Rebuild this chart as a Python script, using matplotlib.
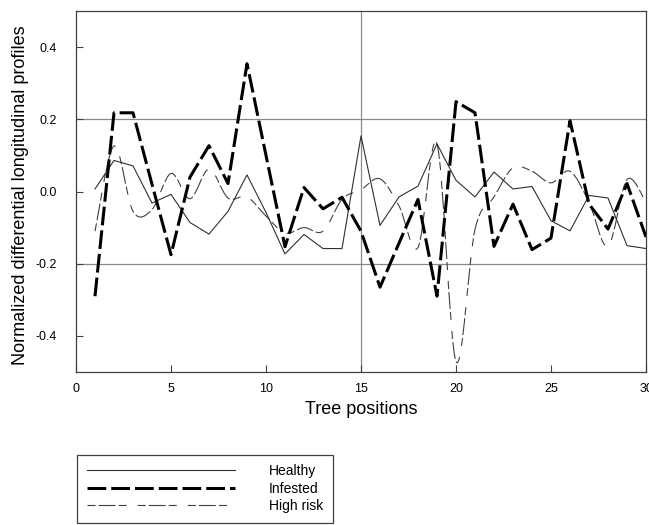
import numpy as np
import matplotlib
matplotlib.use("Agg")
import matplotlib.pyplot as plt
from matplotlib.path import Path
from matplotlib.patches import PathPatch
from matplotlib.lines import Line2D

plt.rcParams['font.family'] = ['Liberation Sans', 'DejaVu Sans']
plt.rcParams['lines.scale_dashes'] = False

# tree positions along the row
positions = list(range(1, 31))

healthy = [0.007, 0.086, 0.071, -0.032, -0.008, -0.086, -0.118, -0.055, 0.046, -0.058,
           -0.173, -0.119, -0.158, -0.158, 0.154, -0.094, -0.015, 0.015, 0.132, 0.031,
           -0.015, 0.054, 0.007, 0.014, -0.081, -0.109, -0.011, -0.018, -0.150, -0.158]
infested = [-0.290, 0.218, 0.218, 0.020, -0.175, 0.040, 0.127, 0.022, 0.354, 0.100,
            -0.153, 0.011, -0.048, -0.016, -0.110, -0.265, -0.143, -0.022, -0.290, 0.249,
            0.218, -0.152, -0.035, -0.161, -0.129, 0.196, -0.035, -0.104, 0.022, -0.126]
high_risk = [-0.110, 0.126, -0.055, -0.050, 0.050, -0.020, 0.062, -0.018, -0.015, -0.068,
             -0.115, -0.100, -0.110, -0.022, 0.005, 0.035, -0.040, -0.155, 0.131, -0.471,
             -0.105, -0.015, 0.066, 0.056, 0.024, 0.056, -0.030, -0.152, 0.033, -0.030]

labels = ['Healthy', 'Infested', 'High risk']
xticks = [0, 5, 10, 15, 20, 25, 30]
yticks = [-0.4, -0.2, 0.0, 0.2, 0.4]

infested_dash = (0, (13.5, 3.6))
risk_dash = (0, (5.8, 2.2, 12.2, 2.2, 5.8, 7.9))


def smooth_path(xs, ys):
    # cubic bezier through every point (catmull-rom tangents)
    pts = np.column_stack([xs, ys]).astype(float)
    n = len(pts)
    verts = [pts[0]]
    codes = [Path.MOVETO]
    for i in range(n - 1):
        p0 = pts[max(i - 1, 0)]
        p1 = pts[i]
        p2 = pts[i + 1]
        p3 = pts[min(i + 2, n - 1)]
        verts += [p1 + (p2 - p0) / 6.0, p2 - (p3 - p1) / 6.0, p2]
        codes += [Path.CURVE4] * 3
    return Path(verts, codes)


fig = plt.figure(figsize=(6.49, 5.25), dpi=100)
ax = fig.add_axes([76 / 649, 153 / 525, 570 / 649, 361 / 525])

# reference lines
for yv in (-0.2, 0.2):
    ax.axhline(yv, color='#8a8a8a', lw=0.9, zorder=1)
ax.axvline(15, color='#8a8a8a', lw=0.9, zorder=1)

ax.plot(positions, healthy, color='#303030', lw=0.8, zorder=3)
ax.plot(positions, infested, color='black', lw=2.2, linestyle=infested_dash, zorder=4)
ax.add_patch(PathPatch(smooth_path(positions, high_risk), fill=False,
                       edgecolor='#404040', lw=0.8, linestyle=risk_dash, zorder=2))

ax.set_xlim(0, 30)
ax.set_ylim(-0.5, 0.5)
ax.set_xticks(xticks)
ax.set_yticks(yticks)
ax.set_yticklabels(['%.1f' % v for v in yticks])
ax.tick_params(direction='in', length=5, width=0.8, color='#404040', labelsize=9)
ax.tick_params(axis='y', pad=14)
ax.tick_params(axis='x', pad=8)
for s in ax.spines.values():
    s.set_color('#404040')
    s.set_linewidth(0.9)

ax.set_xlabel('Tree positions', fontsize=13)
ax.xaxis.set_label_coords(0.5, -0.105)
ax.xaxis.label.set_va('center')
ax.set_ylabel('Normalized differential longitudinal profiles', fontsize=13)
ax.yaxis.set_label_coords(-0.098, 0.49)
ax.yaxis.label.set_va('center')

handles = [
    Line2D([], [], color='#303030', lw=0.8),
    Line2D([], [], color='black', lw=2.2, linestyle=infested_dash),
    Line2D([], [], color='#404040', lw=0.8, linestyle=risk_dash),
]
leg = fig.legend(handles, labels, loc='lower left', bbox_to_anchor=(77 / 649, 2 / 525),
                 fontsize=10, handlelength=10.7, handletextpad=2.4, borderpad=0.7,
                 labelspacing=0.25, borderaxespad=0, fancybox=False, framealpha=1)
leg.get_frame().set_edgecolor('#404040')
leg.get_frame().set_linewidth(0.9)

fig.savefig('out.png', dpi=100)
